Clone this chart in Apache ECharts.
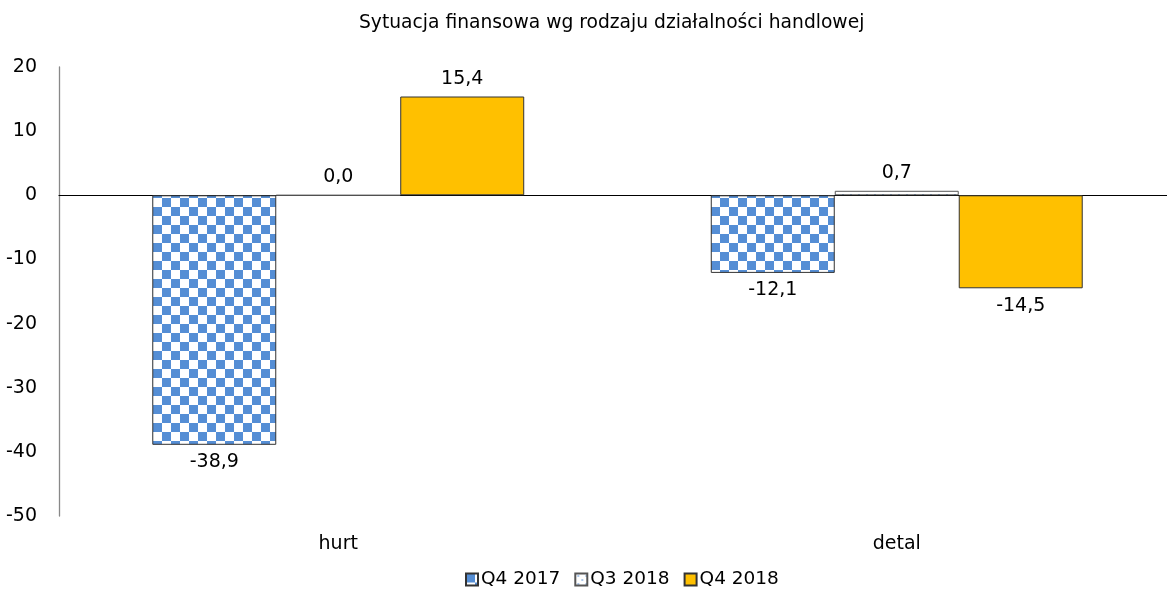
<!DOCTYPE html>
<html>
<head>
<meta charset="utf-8">
<script src="https://cdn.jsdelivr.net/npm/echarts@6/dist/echarts.min.js"></script>
<style>html,body{margin:0;padding:0;background:#fff}#c{width:1167px;height:597px}</style>
</head>
<body>
<div id="c"></div>
<script>
const titleText = 'Sytuacja finansowa wg rodzaju działalności handlowej';
const categories = ['hurt', 'detal'];
const seriesNames = ['Q4 2017', 'Q3 2018', 'Q4 2018'];
const q4_2017 = [-38.9, -12.1];
const q3_2018 = [0.0, 0.7];
const q4_2018 = [15.4, -14.5];
const yTicks = [20, 10, 0, -10, -20, -30, -40, -50];

const FONT = 'DejaVu Sans';
const FS = 19;
const BLUE = '#558ED5';

function checker() {
  const s = 9;
  const c = document.createElement('canvas');
  c.width = s * 2; c.height = s * 2;
  const g = c.getContext('2d');
  g.fillStyle = '#fff'; g.fillRect(0, 0, s * 2, s * 2);
  g.fillStyle = BLUE;
  g.fillRect(0, 0, s, s);
  g.fillRect(s, s, s, s);
  return c;
}
function dots() {
  const c = document.createElement('canvas');
  c.width = 8; c.height = 8;
  const g = c.getContext('2d');
  g.fillStyle = '#fff'; g.fillRect(0, 0, 8, 8);
  g.fillStyle = BLUE;
  g.fillRect(2, 2, 2, 1);
  g.fillRect(6, 6, 2, 1);
  return c;
}

const fmt = v => v.toFixed(1).replace('.', ',');
function mk(vals) {
  return vals.map(v => ({
    value: v,
    label: { position: v >= 0 ? 'top' : 'bottom' }
  }));
}
const labelCommon = {
  show: true, fontFamily: FONT, fontSize: FS, color: '#000', distance: 8,
  formatter: p => fmt(p.value)
};

const chart = echarts.init(document.getElementById('c'));
chart.setOption({
  animation: false,
  backgroundColor: '#fff',
  title: {
    text: titleText, left: 354, top: 9,
    textStyle: { fontFamily: FONT, fontSize: 18.7, fontWeight: 'normal', color: '#000' }
  },
  legend: {
    bottom: 3, left: 460, icon: 'rect', itemWidth: 12, itemHeight: 12, itemGap: 14,
    textStyle: { fontFamily: FONT, fontSize: 18.5, color: '#000', padding: [0, 0, 0, -2] },
    data: seriesNames
  },
  grid: { left: 59, width: 1117, top: 67, height: 449, outerBoundsMode: 'none', containLabel: false },
  xAxis: [
    { type: 'category', data: categories, axisLine: { onZero: true, lineStyle: { color: '#000', width: 1.2 } },
      axisTick: { show: false }, axisLabel: { show: false } },
    { type: 'category', data: categories, position: 'bottom', axisLine: { show: false },
      axisTick: { show: false },
      axisLabel: { fontFamily: FONT, fontSize: FS, color: '#000', margin: 19 } }
  ],
  yAxis: {
    type: 'value', min: -50, max: 20, interval: 10,
    axisLine: { show: true, lineStyle: { color: '#888', width: 1.3 } },
    axisTick: { show: false }, splitLine: { show: false },
    axisLabel: { fontFamily: FONT, fontSize: FS, color: '#000', margin: 22 }
  },
  series: [
    { name: seriesNames[0], type: 'bar', data: mk(q4_2017), barGap: '0%', barCategoryGap: '33.4%',
      itemStyle: { color: { image: checker(), repeat: 'repeat' }, borderColor: '#333', borderWidth: 1 },
      label: labelCommon },
    { name: seriesNames[1], type: 'bar', data: mk(q3_2018),
      itemStyle: { color: { image: dots(), repeat: 'repeat' }, borderColor: '#555', borderWidth: 1 },
      label: labelCommon },
    { name: seriesNames[2], type: 'bar', data: mk(q4_2018),
      itemStyle: { color: '#FFC000', borderColor: '#333', borderWidth: 1 },
      label: labelCommon }
  ]
});
</script>
</body>
</html>
